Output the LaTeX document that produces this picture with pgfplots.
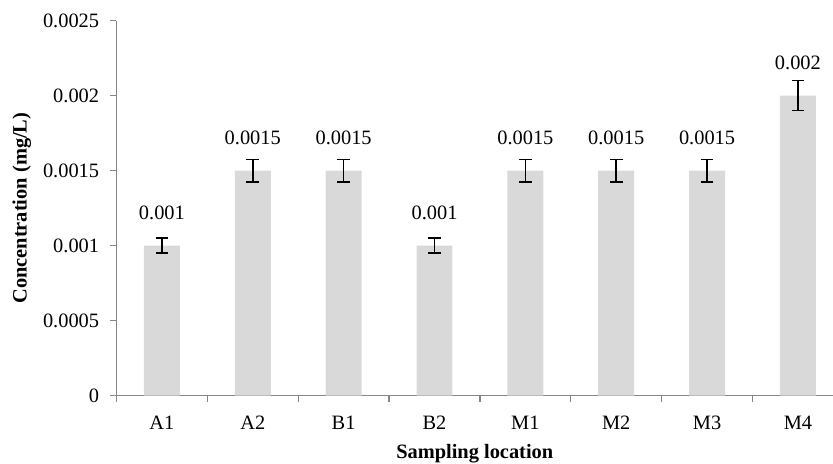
\documentclass[border=0pt]{standalone}
\usepackage{fontspec}
\setmainfont{Liberation Serif}
\usepackage{pgfplots}
\pgfplotsset{compat=1.18}
\usepackage{pgfplotstable}
\definecolor{barg}{RGB}{217,217,217}
\definecolor{axg}{RGB}{134,134,134}
\pgfplotstableread{
x y err label
0 0.001 0.00005 0.001
1 0.0015 0.000075 0.0015
2 0.0015 0.000075 0.0015
3 0.001 0.00005 0.001
4 0.0015 0.000075 0.0015
5 0.0015 0.000075 0.0015
6 0.0015 0.000075 0.0015
7 0.002 0.0001 0.002
}\datatable
\begin{document}
\begin{tikzpicture}[font=\fontsize{15.3}{18}\selectfont]
\path[use as bounding box] (0,0) rectangle (624.75pt,348pt);
\begin{axis}[
  at={(87.375pt,51.225pt)}, anchor=south west,
  scale only axis, width=537.375pt, height=281.25pt,
  xmin=-0.5, xmax=7.386, ymin=0, ymax=0.0025,
  axis x line=bottom, axis y line=left,
  axis line style={-, draw=axg, line width=1pt},
  tick align=outside, major tick length=4.5pt,
  tick style={draw=axg, line width=1pt},
  xtick={-0.5,0.5,1.5,2.5,3.5,4.5,5.5,6.5},
  xticklabels={A1,A2,B1,B2,M1,M2,M3,M4},
  x tick label style={xshift=34.07pt, yshift=-7.5pt},
  ytick={0,0.0005,0.001,0.0015,0.002,0.0025},
  yticklabels={0,0.0005,0.001,0.0015,0.002,0.0025},
  y tick label style={xshift=-5pt},
  scaled y ticks=false,
  /pgf/number format/assume math mode=true,
  tick label style={font=\fontsize{15.3}{18}\selectfont},
  xlabel={\bfseries Sampling location},
  ylabel={\bfseries Concentration (mg/L)},
  xlabel style={at={(axis description cs:0.5,-0.1555)}, anchor=center},
  ylabel style={at={(axis description cs:-0.132,0.5)}, anchor=center, rotate=0},
  ybar, bar width=0.396,
  nodes near coords,
  point meta=explicit symbolic,
  nodes near coords style={anchor=base, yshift=20pt, inner sep=0pt, font=\fontsize{15.3}{18}\selectfont},
]
\addplot[fill=barg, draw=none,
  error bars/.cd, y dir=both, y explicit,
  error bar style={black, line width=1.1pt},
  error mark options={rotate=90, black, line width=1.1pt, mark size=4.8pt}]
  table[x=x, y=y, y error=err, meta=label]{\datatable};
\end{axis}
\end{tikzpicture}
\end{document}
